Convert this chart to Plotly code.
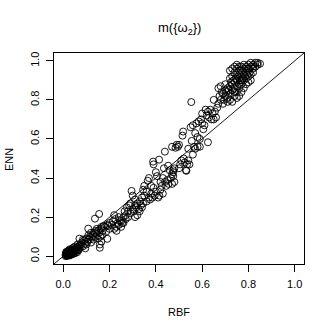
import plotly.graph_objects as go

# (RBF, ENN) pairs, grouped along the band
near_zero = [
    (0.010, 0.005), (0.012, 0.010), (0.015, 0.008), (0.018, 0.012), (0.020, 0.006),
    (0.022, 0.015), (0.025, 0.010), (0.028, 0.018), (0.030, 0.012), (0.032, 0.022),
    (0.035, 0.015), (0.038, 0.025), (0.040, 0.018), (0.042, 0.030), (0.045, 0.022),
    (0.048, 0.035), (0.050, 0.028), (0.055, 0.040), (0.058, 0.032), (0.060, 0.045),
    (0.065, 0.050), (0.068, 0.038), (0.070, 0.090), (0.072, 0.055), (0.015, 0.020),
    (0.018, 0.004), (0.020, 0.025), (0.024, 0.003), (0.026, 0.030), (0.030, 0.005),
    (0.033, 0.008), (0.036, 0.010), (0.012, 0.015), (0.016, 0.002), (0.013, 0.022),
    (0.022, 0.028), (0.028, 0.035), (0.040, 0.040), (0.045, 0.045), (0.050, 0.015),
    (0.055, 0.025), (0.060, 0.020), (0.011, 0.000), (0.019, 0.018), (0.027, 0.023),
    (0.034, 0.028), (0.044, 0.012), (0.052, 0.050), (0.062, 0.060), (0.066, 0.030),
]

low = [
    (0.075, 0.060), (0.080, 0.070), (0.085, 0.050), (0.090, 0.080), (0.095, 0.065),
    (0.100, 0.090), (0.105, 0.075), (0.108, 0.106), (0.108, 0.141), (0.110, 0.085),
    (0.115, 0.100), (0.120, 0.070), (0.125, 0.095), (0.130, 0.110), (0.135, 0.120),
    (0.137, 0.192), (0.140, 0.130), (0.140, 0.100), (0.145, 0.115), (0.150, 0.130),
    (0.155, 0.216), (0.155, 0.120), (0.158, 0.043), (0.158, 0.060), (0.160, 0.100),
    (0.162, 0.140), (0.165, 0.150), (0.170, 0.130), (0.175, 0.155), (0.180, 0.150),
    (0.185, 0.125), (0.190, 0.089), (0.190, 0.160), (0.195, 0.155), (0.200, 0.170),
    (0.200, 0.140), (0.095, 0.040), (0.120, 0.120), (0.130, 0.085), (0.150, 0.090),
    (0.170, 0.110), (0.165, 0.075), (0.145, 0.140), (0.085, 0.085), (0.075, 0.045),
    (0.100, 0.060),
]

lower_mid = [
    (0.210, 0.160), (0.215, 0.180), (0.220, 0.140), (0.220, 0.210), (0.225, 0.190),
    (0.230, 0.150), (0.235, 0.170), (0.240, 0.160), (0.245, 0.185), (0.250, 0.180),
    (0.255, 0.170), (0.260, 0.200), (0.265, 0.230), (0.270, 0.190), (0.275, 0.250),
    (0.280, 0.200), (0.285, 0.260), (0.290, 0.220), (0.290, 0.270), (0.295, 0.334),
    (0.300, 0.310), (0.300, 0.240), (0.305, 0.230), (0.310, 0.260), (0.310, 0.290),
    (0.315, 0.250), (0.320, 0.270), (0.325, 0.240), (0.330, 0.280), (0.335, 0.260),
    (0.340, 0.300), (0.345, 0.270), (0.350, 0.310), (0.350, 0.360), (0.280, 0.230),
    (0.260, 0.170), (0.240, 0.200), (0.230, 0.130), (0.320, 0.210), (0.310, 0.200),
    (0.270, 0.210), (0.250, 0.150), (0.330, 0.230), (0.340, 0.250),
]

upper_mid = [
    (0.360, 0.330), (0.365, 0.386), (0.370, 0.400), (0.370, 0.300), (0.375, 0.290),
    (0.380, 0.320), (0.385, 0.300), (0.388, 0.484), (0.390, 0.470), (0.390, 0.350),
    (0.395, 0.310), (0.400, 0.330), (0.400, 0.430), (0.405, 0.410), (0.410, 0.300),
    (0.414, 0.494), (0.415, 0.310), (0.420, 0.340), (0.425, 0.360), (0.430, 0.320),
    (0.435, 0.450), (0.439, 0.535), (0.440, 0.380), (0.445, 0.360), (0.450, 0.390),
    (0.453, 0.463), (0.455, 0.370), (0.460, 0.440), (0.465, 0.400), (0.470, 0.420),
    (0.470, 0.370), (0.475, 0.430), (0.475, 0.440), (0.475, 0.410), (0.480, 0.450),
    (0.480, 0.380), (0.470, 0.560), (0.485, 0.555), (0.490, 0.570), (0.495, 0.560),
    (0.500, 0.570), (0.380, 0.360), (0.360, 0.280), (0.345, 0.340), (0.420, 0.380),
    (0.430, 0.400),
]

high = [
    (0.500, 0.450), (0.505, 0.470), (0.510, 0.490), (0.515, 0.617), (0.518, 0.638),
    (0.520, 0.500), (0.525, 0.480), (0.530, 0.440), (0.532, 0.437), (0.535, 0.470),
    (0.540, 0.550), (0.540, 0.490), (0.545, 0.470), (0.550, 0.660), (0.553, 0.789),
    (0.555, 0.590), (0.560, 0.520), (0.560, 0.670), (0.565, 0.560), (0.570, 0.630),
    (0.570, 0.550), (0.575, 0.680), (0.580, 0.610), (0.580, 0.560), (0.585, 0.690),
    (0.590, 0.600), (0.590, 0.560), (0.595, 0.700), (0.600, 0.730), (0.600, 0.680),
    (0.605, 0.650), (0.610, 0.670), (0.615, 0.750), (0.620, 0.720), (0.625, 0.583),
    (0.625, 0.740), (0.630, 0.710), (0.635, 0.750), (0.640, 0.700), (0.645, 0.730),
    (0.650, 0.800), (0.650, 0.700), (0.655, 0.740), (0.660, 0.710), (0.665, 0.760),
    (0.670, 0.860), (0.670, 0.780), (0.675, 0.820), (0.680, 0.800), (0.685, 0.840),
    (0.680, 0.870),
]

top = [
    (0.720, 0.950), (0.730, 0.960), (0.740, 0.970), (0.750, 0.980), (0.760, 0.970),
    (0.770, 0.970), (0.780, 0.980), (0.790, 0.970), (0.800, 0.980), (0.810, 0.990),
    (0.820, 0.980), (0.830, 0.990), (0.840, 0.990), (0.850, 0.985), (0.830, 0.970),
    (0.820, 0.960), (0.800, 0.950), (0.790, 0.940), (0.780, 0.930), (0.770, 0.920),
    (0.760, 0.910), (0.750, 0.900), (0.740, 0.890), (0.730, 0.880), (0.720, 0.870),
    (0.710, 0.860), (0.700, 0.850), (0.690, 0.830), (0.700, 0.820), (0.710, 0.810),
    (0.720, 0.800), (0.730, 0.790), (0.740, 0.820), (0.750, 0.840), (0.760, 0.860),
    (0.770, 0.880), (0.780, 0.900), (0.790, 0.910), (0.800, 0.920), (0.810, 0.930),
    (0.820, 0.940), (0.750, 0.930), (0.760, 0.950), (0.740, 0.940), (0.730, 0.920),
    (0.720, 0.910), (0.740, 0.860), (0.750, 0.870), (0.760, 0.880), (0.770, 0.900),
    (0.780, 0.860), (0.790, 0.880), (0.800, 0.890), (0.810, 0.900), (0.770, 0.840),
    (0.760, 0.820), (0.740, 0.840), (0.730, 0.850), (0.750, 0.810), (0.710, 0.790),
    (0.720, 0.830), (0.780, 0.960), (0.770, 0.950), (0.790, 0.960), (0.800, 0.960),
    (0.810, 0.970), (0.820, 0.970), (0.840, 0.980), (0.760, 0.930), (0.750, 0.960),
    (0.700, 0.880), (0.690, 0.780), (0.695, 0.800), (0.705, 0.840), (0.715, 0.850),
    (0.725, 0.890), (0.735, 0.900), (0.745, 0.910), (0.755, 0.920), (0.765, 0.900),
    (0.775, 0.910), (0.785, 0.920), (0.795, 0.930), (0.805, 0.940),
]

tick_vals = [0.0, 0.2, 0.4, 0.6, 0.8, 1.0]
tick_text = ['0.0', '0.2', '0.4', '0.6', '0.8', '1.0']
diag = [-0.1, 1.1]

points = near_zero + low + lower_mid + upper_mid + high + top
rbf = [p[0] for p in points]
enn = [p[1] for p in points]

font = 'Liberation Sans, Arial, Helvetica, sans-serif'
W = H = 332
ml, mr, mt, mb = 54, 28, 53, 68
pw, ph = W - ml - mr, H - mt - mb


def px_to_paper(x, y):
    # pixel position on the page -> paper coords of the plot area
    return (x - ml) / pw, (H - mb - y) / ph


fig = go.Figure()
fig.add_trace(go.Scatter(x=rbf, y=enn, mode='markers',
                         marker=dict(symbol='circle-open', size=7, color='black',
                                     line=dict(width=0.9, color='black'))))
fig.add_trace(go.Scatter(x=diag, y=diag, mode='lines',
                         line=dict(color='black', width=0.9)))

axis_style = dict(range=[-0.04, 1.04], tickvals=tick_vals, ticktext=tick_text,
                  showgrid=False, zeroline=False, showline=True, mirror=True,
                  linecolor='black', linewidth=1, ticks='outside', ticklen=7,
                  tickcolor='black', tickwidth=1, ticklabelstandoff=3,
                  tickfont=dict(family=font, size=11, color='black'))

fig.update_xaxes(**axis_style)
fig.update_yaxes(tickangle=-90, **axis_style)

labels = [('m({ω<sub>2</sub>})', 179, 28, 0, 13),
          ('RBF', 179, 312, 0, 11),
          ('ENN', 9, 160, -90, 11)]
annotations = []
for text, x, y, angle, size in labels:
    ax, ay = px_to_paper(x, y)
    annotations.append(dict(text=text, x=ax, y=ay, xref='paper', yref='paper',
                            xanchor='center', yanchor='middle', textangle=angle,
                            showarrow=False,
                            font=dict(family=font, size=size, color='black')))

fig.update_layout(
    width=W, height=H, showlegend=False,
    plot_bgcolor='white', paper_bgcolor='white',
    margin=dict(l=ml, r=mr, t=mt, b=mb),
    annotations=annotations,
)

fig.write_html("out.html", config={'displayModeBar': False},
               post_script="document.body.style.margin='0';")
